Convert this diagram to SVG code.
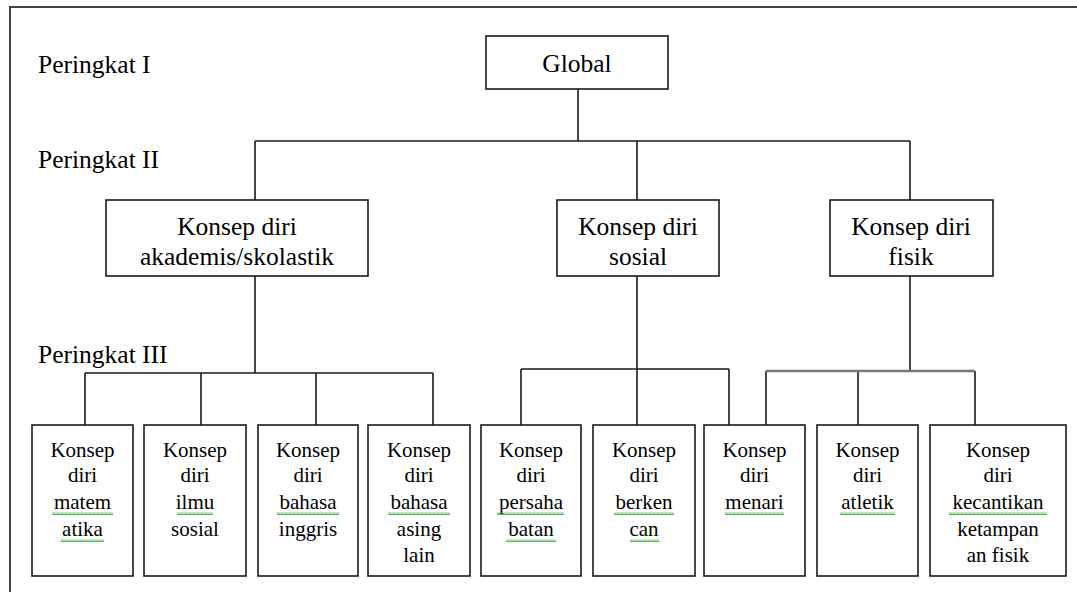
<svg xmlns="http://www.w3.org/2000/svg" width="1077" height="592" viewBox="0 0 1077 592" font-family="Liberation Serif">
<style>
  .box { fill: #fff; stroke: #1a1a1a; stroke-width: 1.6; }
  text { font-family: 'Liberation Serif', serif !important; }
  .big { font-size: 25.5px; fill: #000; text-anchor: middle; }
  .lvl { font-size: 25.5px; fill: #000; }
  .sm { font-size: 21px; fill: #000; text-anchor: middle; }
  .ln { fill: none; stroke: #1a1a1a; stroke-width: 1.6; }
  .sq { fill: url(#squig); }
</style>
<defs>
  <pattern id="squig" x="0" y="0" width="4" height="3" patternUnits="userSpaceOnUse">
    <polyline points="0,2.5 1,0.5 2,2.5 3,0.5 4,2.5" fill="none" stroke="#3cb043" stroke-width="0.9"/>
  </pattern>
</defs>
<rect width="1077" height="592" fill="#fff"/>
<path d="M10,592 V7 H1077" fill="none" stroke="#444" stroke-width="2"/>

<text class="lvl" x="38" y="73">Peringkat I</text>
<text class="lvl" x="38" y="168">Peringkat II</text>
<text class="lvl" x="38" y="363">Peringkat III</text>

<g id="connectors">
  <path class="ln" d="M578,89 V141 M255,141 H910 M255,141 V200 M637,141 V200 M910,141 V200"/>
  <path class="ln" d="M255,276 V373 M85,373 H433 M85,373 V425 M201,373 V425 M316,373 V425 M433,373 V425"/>
  <path class="ln" d="M637,276 V369 M521,369 H729 M521,369 V425 M637,369 V425 M729,369 V425"/>
  <path class="ln" d="M910,276 V371 M766,371 V425 M858,371 V425 M975,371 V425"/>
  <path d="M766,371 H975" fill="none" stroke="#777" stroke-width="2.6"/>
</g>

<g id="global">
  <rect class="box" x="486" y="36" width="182" height="53"/>
  <text class="big" x="577" y="72" style="font-family:'Liberation Serif',serif !important">Global</text>
</g>
<g id="akademis">
  <rect class="box" x="106" y="200" width="262" height="76"/>
  <text class="big" x="237" y="235" style="font-family:'Liberation Serif',serif !important">Konsep diri</text>
  <text class="big" x="237" y="265" style="font-family:'Liberation Serif',serif !important">akademis/skolastik</text>
</g>
<g id="sosial">
  <rect class="box" x="557" y="200" width="162" height="76"/>
  <text class="big" x="638" y="235" style="font-family:'Liberation Serif',serif !important">Konsep diri</text>
  <text class="big" x="638" y="265" style="font-family:'Liberation Serif',serif !important">sosial</text>
</g>
<g id="fisik">
  <rect class="box" x="830" y="200" width="163" height="76"/>
  <text class="big" x="911" y="235" style="font-family:'Liberation Serif',serif !important">Konsep diri</text>
  <text class="big" x="911" y="265" style="font-family:'Liberation Serif',serif !important">fisik</text>
</g>

<g id="matematika">
  <rect class="box" x="32" y="425" width="101" height="151"/>
  <text class="sm" x="82.5" y="457" style="font-family:'Liberation Serif',serif !important">Konsep</text>
  <text class="sm" x="82.5" y="482" style="font-family:'Liberation Serif',serif !important">diri</text>
  <text class="sm" x="82.5" y="509" style="font-family:'Liberation Serif',serif !important">matem</text>
  <text class="sm" x="82.5" y="536" style="font-family:'Liberation Serif',serif !important">atika</text>
  <rect class="sq" x="52" y="512" width="61" height="3"/>
  <rect class="sq" x="61" y="539" width="43" height="3"/>
</g>
<g id="ilmusosial">
  <rect class="box" x="144" y="425" width="102" height="151"/>
  <text class="sm" x="195" y="457" style="font-family:'Liberation Serif',serif !important">Konsep</text>
  <text class="sm" x="195" y="482" style="font-family:'Liberation Serif',serif !important">diri</text>
  <text class="sm" x="195" y="509" style="font-family:'Liberation Serif',serif !important">ilmu</text>
  <text class="sm" x="195" y="536" style="font-family:'Liberation Serif',serif !important">sosial</text>
  <rect class="sq" x="177" y="512" width="36" height="3"/>
</g>
<g id="inggris">
  <rect class="box" x="258" y="425" width="100" height="151"/>
  <text class="sm" x="308" y="457" style="font-family:'Liberation Serif',serif !important">Konsep</text>
  <text class="sm" x="308" y="482" style="font-family:'Liberation Serif',serif !important">diri</text>
  <text class="sm" x="308" y="509" style="font-family:'Liberation Serif',serif !important">bahasa</text>
  <text class="sm" x="308" y="536" style="font-family:'Liberation Serif',serif !important">inggris</text>
  <rect class="sq" x="277" y="512" width="62" height="3"/>
</g>
<g id="asing">
  <rect class="box" x="368" y="425" width="102" height="151"/>
  <text class="sm" x="419" y="457" style="font-family:'Liberation Serif',serif !important">Konsep</text>
  <text class="sm" x="419" y="482" style="font-family:'Liberation Serif',serif !important">diri</text>
  <text class="sm" x="419" y="509" style="font-family:'Liberation Serif',serif !important">bahasa</text>
  <text class="sm" x="419" y="536" style="font-family:'Liberation Serif',serif !important">asing</text>
  <text class="sm" x="419" y="562" style="font-family:'Liberation Serif',serif !important">lain</text>
  <rect class="sq" x="388" y="512" width="62" height="3"/>
</g>
<g id="persahabatan">
  <rect class="box" x="481" y="425" width="100" height="151"/>
  <text class="sm" x="531" y="457" style="font-family:'Liberation Serif',serif !important">Konsep</text>
  <text class="sm" x="531" y="482" style="font-family:'Liberation Serif',serif !important">diri</text>
  <text class="sm" x="531" y="509" style="font-family:'Liberation Serif',serif !important">persaha</text>
  <text class="sm" x="531" y="536" style="font-family:'Liberation Serif',serif !important">batan</text>
  <rect class="sq" x="497" y="512" width="67" height="3"/>
  <rect class="sq" x="506" y="539" width="50" height="3"/>
</g>
<g id="berkencan">
  <rect class="box" x="593" y="425" width="102" height="151"/>
  <text class="sm" x="644" y="457" style="font-family:'Liberation Serif',serif !important">Konsep</text>
  <text class="sm" x="644" y="482" style="font-family:'Liberation Serif',serif !important">diri</text>
  <text class="sm" x="644" y="509" style="font-family:'Liberation Serif',serif !important">berken</text>
  <text class="sm" x="644" y="536" style="font-family:'Liberation Serif',serif !important">can</text>
  <rect class="sq" x="614" y="512" width="60" height="3"/>
  <rect class="sq" x="630" y="539" width="29" height="3"/>
</g>
<g id="menari">
  <rect class="box" x="704" y="425" width="101" height="151"/>
  <text class="sm" x="754.5" y="457" style="font-family:'Liberation Serif',serif !important">Konsep</text>
  <text class="sm" x="754.5" y="482" style="font-family:'Liberation Serif',serif !important">diri</text>
  <text class="sm" x="754.5" y="509" style="font-family:'Liberation Serif',serif !important">menari</text>
  <rect class="sq" x="725" y="512" width="59" height="3"/>
</g>
<g id="atletik">
  <rect class="box" x="817" y="425" width="101" height="151"/>
  <text class="sm" x="867.5" y="457" style="font-family:'Liberation Serif',serif !important">Konsep</text>
  <text class="sm" x="867.5" y="482" style="font-family:'Liberation Serif',serif !important">diri</text>
  <text class="sm" x="867.5" y="509" style="font-family:'Liberation Serif',serif !important">atletik</text>
  <rect class="sq" x="840" y="512" width="55" height="3"/>
</g>
<g id="kecantikan">
  <rect class="box" x="930" y="425" width="136" height="151"/>
  <text class="sm" x="998" y="457" style="font-family:'Liberation Serif',serif !important">Konsep</text>
  <text class="sm" x="998" y="482" style="font-family:'Liberation Serif',serif !important">diri</text>
  <text class="sm" x="998" y="509" style="font-family:'Liberation Serif',serif !important">kecantikan</text>
  <text class="sm" x="998" y="536" style="font-family:'Liberation Serif',serif !important">ketampan</text>
  <text class="sm" x="998" y="562" style="font-family:'Liberation Serif',serif !important">an fisik</text>
  <rect class="sq" x="949" y="512" width="98" height="3"/>
</g>
</svg>
